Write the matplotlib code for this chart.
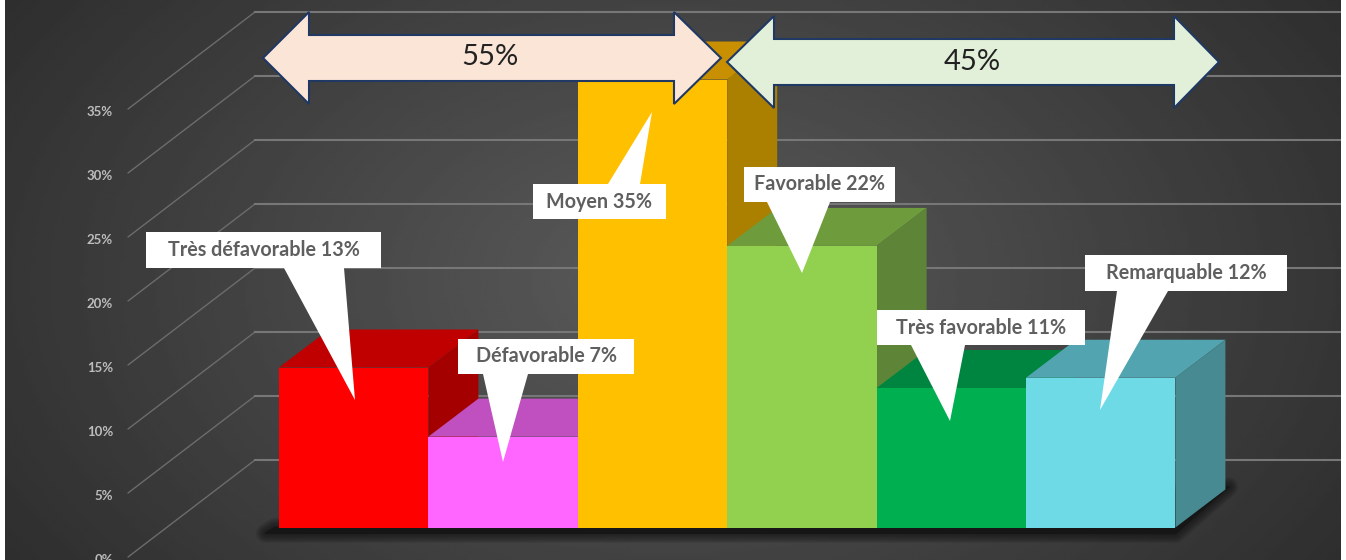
import numpy as np
import matplotlib
matplotlib.use("Agg")
import matplotlib.pyplot as plt
from matplotlib.patches import Polygon, FancyBboxPatch
from matplotlib.transforms import Affine2D

W, H = 1346, 560
plt.rcParams['font.family'] = ['Lato', 'DejaVu Sans']

# ---- data ----
categories = ["Très défavorable", "Défavorable", "Moyen", "Favorable", "Très favorable", "Remarquable"]
values = [12.5, 7.1, 35, 22, 10.9, 11.7]
labels = ["Très défavorable 13%", "Défavorable 7%", "Moyen 35%", "Favorable 22%", "Très favorable 11%", "Remarquable 12%"]
front_colors = ["#FF0000", "#FF66FF", "#FFC000", "#92D050", "#00B050", "#6DDAE6"]
top_colors = ["#C00000", "#C050C0", "#C89000", "#6E9C3C", "#008540", "#52A5B0"]
side_colors = ["#A50000", "#A040A0", "#AB8000", "#5E8537", "#007A3A", "#478A92"]
yticks = [0, 5, 10, 15, 20, 25, 30, 35]
ytick_labels = ["0%", "5%", "10%", "15%", "20%", "25%", "30%", "35%"]
group_labels = ["55%", "45%"]

# ---- scales (pixel calibration of the 3-D look) ----
AX_L, AX_R = 5, 1341
BAR_X0, BAR_W = 279.0, 149.4
BASE_Y, PX_PER = 527.5, 12.8
def xd(p): return (p - BAR_X0) / BAR_W
def yd(p): return (BASE_Y - p) / PX_PER
DX, DY = 50 / BAR_W, 38 / PX_PER               # bar depth
WALL_X0, WALL_X1 = xd(128), xd(255)            # side wall of the value axis
FLOOR0, WALL0 = yd(557), yd(460)               # 0 % at front and back of the floor

fig = plt.figure(figsize=(W / 100, H / 100), dpi=100, facecolor="white")
ax = fig.add_axes([AX_L / W, 0, (AX_R - AX_L) / W, 1])
ax.set_facecolor("#3a3a3a")
for s in ax.spines.values():
    s.set_visible(False)

# background radial gradient
xx, yy = np.meshgrid(np.linspace(0, 1, 400), np.linspace(0, 1, 200))
r = np.clip(np.hypot((xx - 0.5) / 0.62, (yy - 0.5) / 0.95), 0, 1)
shade = 0.355 - 0.18 * r
ax.imshow(shade, cmap="gray", vmin=0, vmax=1, origin="upper", aspect="auto",
          extent=(xd(AX_L), xd(AX_R), yd(H), yd(0)), zorder=0, interpolation="bilinear")
ax.set_xlim(xd(AX_L), xd(AX_R))
ax.set_ylim(yd(H), yd(0))

# gridlines: side wall + back wall
for t in yticks:
    y0, y1 = FLOOR0 + t, WALL0 + t
    ax.plot([WALL_X0, WALL_X1], [y0, y1], color="#6c6c6c", lw=1.0, zorder=1, solid_capstyle="round")
    ax.plot([WALL_X1, xd(AX_R)], [y1, y1], color="#777777", lw=1.5, zorder=1)

# value axis
ax.set_xticks([])
ax.set_yticks([FLOOR0 + t - 0.15 for t in yticks])
ax.set_yticklabels(ytick_labels, color="#bdbdbd", fontsize=9.5, fontweight="bold")
ax.tick_params(axis="y", length=0, pad=-(113 - AX_L) * 0.72)

# soft shadow beneath the bars
n = len(values)
sx = [-0.09, n + 0.0, n + DX + 0.02, n + DX - 0.1, -0.03]
sy = [-0.45, -0.45, DY + 0.2, DY, 0.0]
for k in range(10):
    ax.add_patch(Polygon(np.column_stack([sx, sy]), closed=True, facecolor="none",
                         edgecolor="#111111", lw=14 - 1.4 * k, alpha=0.09,
                         joinstyle="round", zorder=2))
ax.fill(sx, sy, color="#161616", zorder=2)

# bars, painted from left to right
for i, v in enumerate(values):
    z = 3 + i
    ax.fill([i, i + DX, i + 1 + DX, i + 1], [v, v + DY, v + DY, v], color=top_colors[i], lw=0, zorder=z)
    ax.fill([i + 1, i + 1 + DX, i + 1 + DX, i + 1], [0, DY, v + DY, v], color=side_colors[i], lw=0, zorder=z)
    ax.bar(i + 0.5, v, width=1.0, bottom=0, color=front_colors[i], lw=0, zorder=z)

# annotation shapes are placed in figure pixels (origin top-left)
px = Affine2D().scale(1, -1).translate(0, H)

# callouts: box (l, t, r, b), tail base x0, x1, tail tip
callouts = [
    ((146, 232, 381, 268), 284, 344, (355, 400)),
    ((458, 339, 634, 374), 483, 528, (503, 462)),
    ((533, 184, 666, 219), 608, 640, (652, 112)),
    ((744, 167, 895, 202), 767, 830, (802, 273)),
    ((877, 310, 1085, 345), 911, 965, (950, 421)),
    ((1085, 255, 1287, 291), 1117, 1168, (1100, 410)),
]
for lab, (box, t0, t1, tip) in zip(labels, callouts):
    l, t, r_, b = box
    if tip[1] > b:
        pts = [(l, t), (r_, t), (r_, b), (t1, b), tip, (t0, b), (l, b)]
    else:
        pts = [(l, t), (t0, t), tip, (t1, t), (r_, t), (r_, b), (l, b)]
    ax.add_patch(Polygon(pts, closed=True, facecolor="white", edgecolor="none",
                         transform=px, zorder=20))
    ax.text((l + r_) / 2, (t + b) / 2, lab, transform=px, ha="center", va="center",
            color="#5f5f5f", fontsize=14.2, fontweight="bold", zorder=21)

# double arrows
def dbl_arrow(x0, xa, xb, x1, yc, head, shaft, color):
    return [(x0, yc), (xa, yc - head), (xa, yc - shaft), (xb, yc - shaft), (xb, yc - head),
            (x1, yc), (xb, yc + head), (xb, yc + shaft), (xa, yc + shaft), (xa, yc + head)]

arrows = [
    (dbl_arrow(263, 309, 674, 721, 58, 46, 23, 0), "#FBE5D6", (490, 57)),
    (dbl_arrow(727, 774, 1174, 1219, 62, 46, 23, 0), "#E2F0D9", (972, 62)),
]
for (pts, col, pos), lab in zip(arrows, group_labels):
    ax.add_patch(Polygon(pts, closed=True, facecolor=col, edgecolor="#1F3864", lw=1.5,
                         transform=px, zorder=22, joinstyle="miter"))
    ax.text(pos[0], pos[1], lab, transform=px, ha="center", va="center",
            color="#222222", fontsize=21, zorder=23)

fig.savefig("out.png", dpi=100, facecolor="white")
